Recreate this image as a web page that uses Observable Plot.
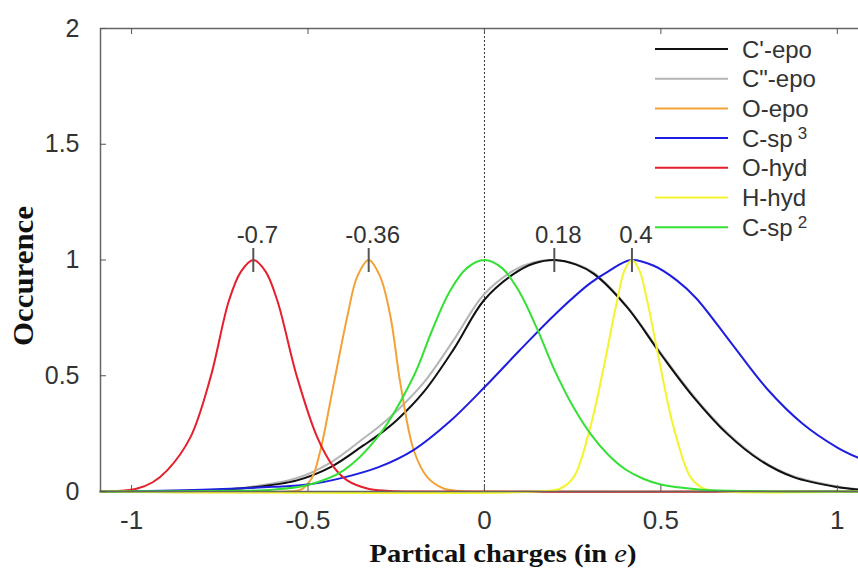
<!DOCTYPE html>
<html><head><meta charset="utf-8">
<script src="https://cdn.jsdelivr.net/npm/d3@7"></script>
<script src="https://cdn.jsdelivr.net/npm/@observablehq/plot@0.6"></script>
<style>body{margin:0;background:#fff}#chart{position:relative;width:858px;height:580px}</style>
</head><body><div id="chart"></div>
<script>
// ---- data ----
const seriesNames = ["C'-epo", 'C"-epo', "O-epo", "C-sp", "O-hyd", "H-hyd", "C-sp"];
const seriesSup   = ["", "", "", "3", "", "", "2"];
const seriesColors = ["#111111", "#b5b5b5", "#f2a237", "#1e1ee0", "#e51f2c", "#f4f42c", "#35e035"];

const cEpo1 = [[-1.088,0],[-0.8,0.004],[-0.663,0.017],[-0.531,0.048],[-0.436,0.105],[-0.342,0.2],[-0.295,0.25],[-0.247,0.31],[-0.172,0.43],[-0.087,0.615],[-0.002,0.825],[0.083,0.94],[0.14,0.985],[0.2,1.0],[0.26,0.98],[0.31,0.94],[0.404,0.796],[0.499,0.595],[0.593,0.407],[0.688,0.249],[0.782,0.134],[0.876,0.062],[0.999,0.019],[1.06,0.008]];
const cEpo2 = [[-1.088,0],[-0.8,0.005],[-0.663,0.02],[-0.531,0.058],[-0.436,0.125],[-0.342,0.23],[-0.295,0.285],[-0.247,0.35],[-0.172,0.47],[-0.087,0.655],[-0.002,0.85],[0.083,0.955],[0.14,0.99],[0.195,1.0],[0.26,0.982],[0.31,0.945],[0.404,0.8],[0.499,0.6],[0.593,0.412],[0.688,0.254],[0.782,0.138],[0.876,0.066],[0.999,0.022],[1.06,0.01]];
const oEpo  = [[-1.088,0],[-0.56,0],[-0.52,0.008],[-0.488,0.062],[-0.465,0.177],[-0.427,0.465],[-0.389,0.753],[-0.36,0.93],[-0.328,1.0],[-0.296,0.93],[-0.266,0.753],[-0.238,0.465],[-0.2,0.177],[-0.162,0.062],[-0.116,0.013],[-0.07,0.002],[0,0],[1.06,0]];
const cSp3  = [[-1.088,0],[-0.8,0.008],[-0.6,0.02],[-0.5,0.03],[-0.4,0.06],[-0.3,0.105],[-0.2,0.18],[-0.1,0.3],[0,0.45],[0.1,0.61],[0.2,0.765],[0.3,0.9],[0.35,0.95],[0.415,1.0],[0.48,0.975],[0.546,0.911],[0.6,0.835],[0.7,0.64],[0.8,0.445],[0.9,0.295],[1.0,0.19],[1.06,0.145]];
const oHyd  = [[-1.088,0],[-1.03,0.003],[-0.984,0.013],[-0.94,0.04],[-0.899,0.091],[-0.833,0.235],[-0.776,0.494],[-0.724,0.825],[-0.69,0.95],[-0.655,1.0],[-0.62,0.95],[-0.587,0.825],[-0.531,0.494],[-0.474,0.235],[-0.427,0.105],[-0.389,0.048],[-0.332,0.013],[-0.28,0.003],[-0.2,0],[1.06,0]];
const hHyd  = [[-1.088,0],[0.15,0],[0.215,0.013],[0.253,0.062],[0.3,0.278],[0.338,0.537],[0.376,0.825],[0.397,0.955],[0.418,1.0],[0.439,0.955],[0.461,0.825],[0.499,0.537],[0.536,0.278],[0.584,0.062],[0.621,0.013],[0.68,0],[1.06,0]];
const cSp2  = [[-1.088,0],[-0.7,0.003],[-0.6,0.008],[-0.5,0.028],[-0.4,0.09],[-0.3,0.24],[-0.2,0.5],[-0.15,0.69],[-0.1,0.86],[-0.05,0.965],[0,1.0],[0.05,0.965],[0.1,0.86],[0.15,0.7],[0.2,0.52],[0.25,0.37],[0.3,0.25],[0.35,0.16],[0.4,0.095],[0.45,0.055],[0.5,0.03],[0.6,0.01],[0.7,0.003],[1.06,0]];
const seriesData = [cEpo1, cEpo2, oEpo, cSp3, oHyd, hHyd, cSp2];
const drawOrder = [1, 0, 2, 3, 4, 5, 6];

const peakX = [-0.655, -0.328, 0.198, 0.418];
const peakY = [1, 1, 1, 1];
const peakLabels = ["-0.7", "-0.36", "0.18", "0.4"];

const xTicks = [-1, -0.5, 0, 0.5, 1];
const yTicks = [0, 0.5, 1, 1.5, 2];
const xDomain = [-1.088, 1.06];
const yDomain = [0, 2];

// ---- build ----
const rows = [];
drawOrder.forEach(i => seriesData[i].forEach(([x, y]) => rows.push({s: i, x, y})));
const peaks = peakX.map((x, i) => ({x, y: peakY[i], label: peakLabels[i]}));
const vbar = {draw(ctx) { ctx.moveTo(0, -12); ctx.lineTo(0, 12); }};

const W = 858, H = 580, mL = 100, mT = 28, mB = 89, mR = 0;
const frameW = W - mL - mR, frameH = H - mT - mB;

const plot = Plot.plot({
  width: W, height: H,
  marginLeft: mL, marginTop: mT, marginBottom: mB, marginRight: mR,
  style: {fontFamily: "'Liberation Sans', Arial, sans-serif", fontSize: "25px", color: "#333", background: "#fff"},
  x: {domain: xDomain, label: null},
  y: {domain: yDomain, label: null},
  marks: [
    Plot.ruleX([0], {stroke: "#333", strokeWidth: 1, strokeDasharray: "2,2"}),
    ...drawOrder.map(i => Plot.line(rows.filter(r => r.s === i), {x: "x", y: "y", stroke: seriesColors[i], strokeWidth: 2, curve: "catmull-rom"})),
    Plot.dot(peaks, {x: "x", y: "y", symbol: vbar, stroke: "#555", strokeWidth: 2, r: 5}),
    Plot.text(peaks, {x: "x", y: "y", text: "label", dy: -25, dx: 4, fontSize: 24, fill: "#333"}),
    Plot.ruleX([xDomain[0]], {stroke: "#666", strokeWidth: 1.5}),
    Plot.ruleY([yDomain[0], yDomain[1]], {stroke: "#666", strokeWidth: 1.5}),
    Plot.tickX(xTicks, {x: d => d, insetTop: frameH - 6, stroke: "#555"}),
    Plot.tickX(xTicks, {x: d => d, insetBottom: frameH - 6, stroke: "#555"}),
    Plot.tickY(yTicks, {y: d => d, insetRight: frameW - 6, stroke: "#555"}),
    Plot.axisX(xTicks, {tickSize: 0, tickPadding: 19, tickFormat: d => String(d), fontSize: 26, label: null}),
    Plot.axisY(yTicks, {tickSize: 0, tickPadding: 21, tickFormat: d => String(d), fontSize: 25, label: null})
  ]
});
document.getElementById("chart").appendChild(plot);

// titles
const svg = d3.select(plot);
svg.append("text")
  .attr("x", 503).attr("y", 562)
  .attr("text-anchor", "middle")
  .attr("textLength", 267).attr("lengthAdjust", "spacingAndGlyphs")
  .style("font-family", "'Liberation Serif', 'Times New Roman', serif").style("font-weight", "bold").style("font-size", "25px").attr("fill", "#111")
  .call(t => { t.append("tspan").text("Partical charges (in "); t.append("tspan").style("font-style", "italic").style("font-weight", "normal").text("e"); t.append("tspan").text(")"); });
svg.append("text")
  .attr("transform", "translate(33,276) rotate(-90)")
  .attr("text-anchor", "middle")
  .attr("textLength", 140).attr("lengthAdjust", "spacingAndGlyphs")
  .style("font-family", "'Liberation Serif', 'Times New Roman', serif").style("font-weight", "bold").style("font-size", "29px").attr("fill", "#111")
  .text("Occurence");

// legend
const lg = svg.append("g").attr("text-anchor", "start");
seriesNames.forEach((name, i) => {
  const y = 49 + i * 29.7;
  lg.append("line").attr("x1", 655).attr("x2", 728).attr("y1", y).attr("y2", y)
    .attr("stroke", seriesColors[i]).attr("stroke-width", 2);
  const t = lg.append("text").attr("x", 742).attr("y", y).attr("dy", "0.36em")
    .style("font-family", "'Liberation Sans', Arial, sans-serif").style("font-size", "24px").attr("fill", "#333");
  t.append("tspan").text(name);
  if (seriesSup[i]) t.append("tspan").attr("dx", 5).attr("dy", "-0.45em").style("font-size", "17px").text(seriesSup[i]);
});
</script>
</body></html>
